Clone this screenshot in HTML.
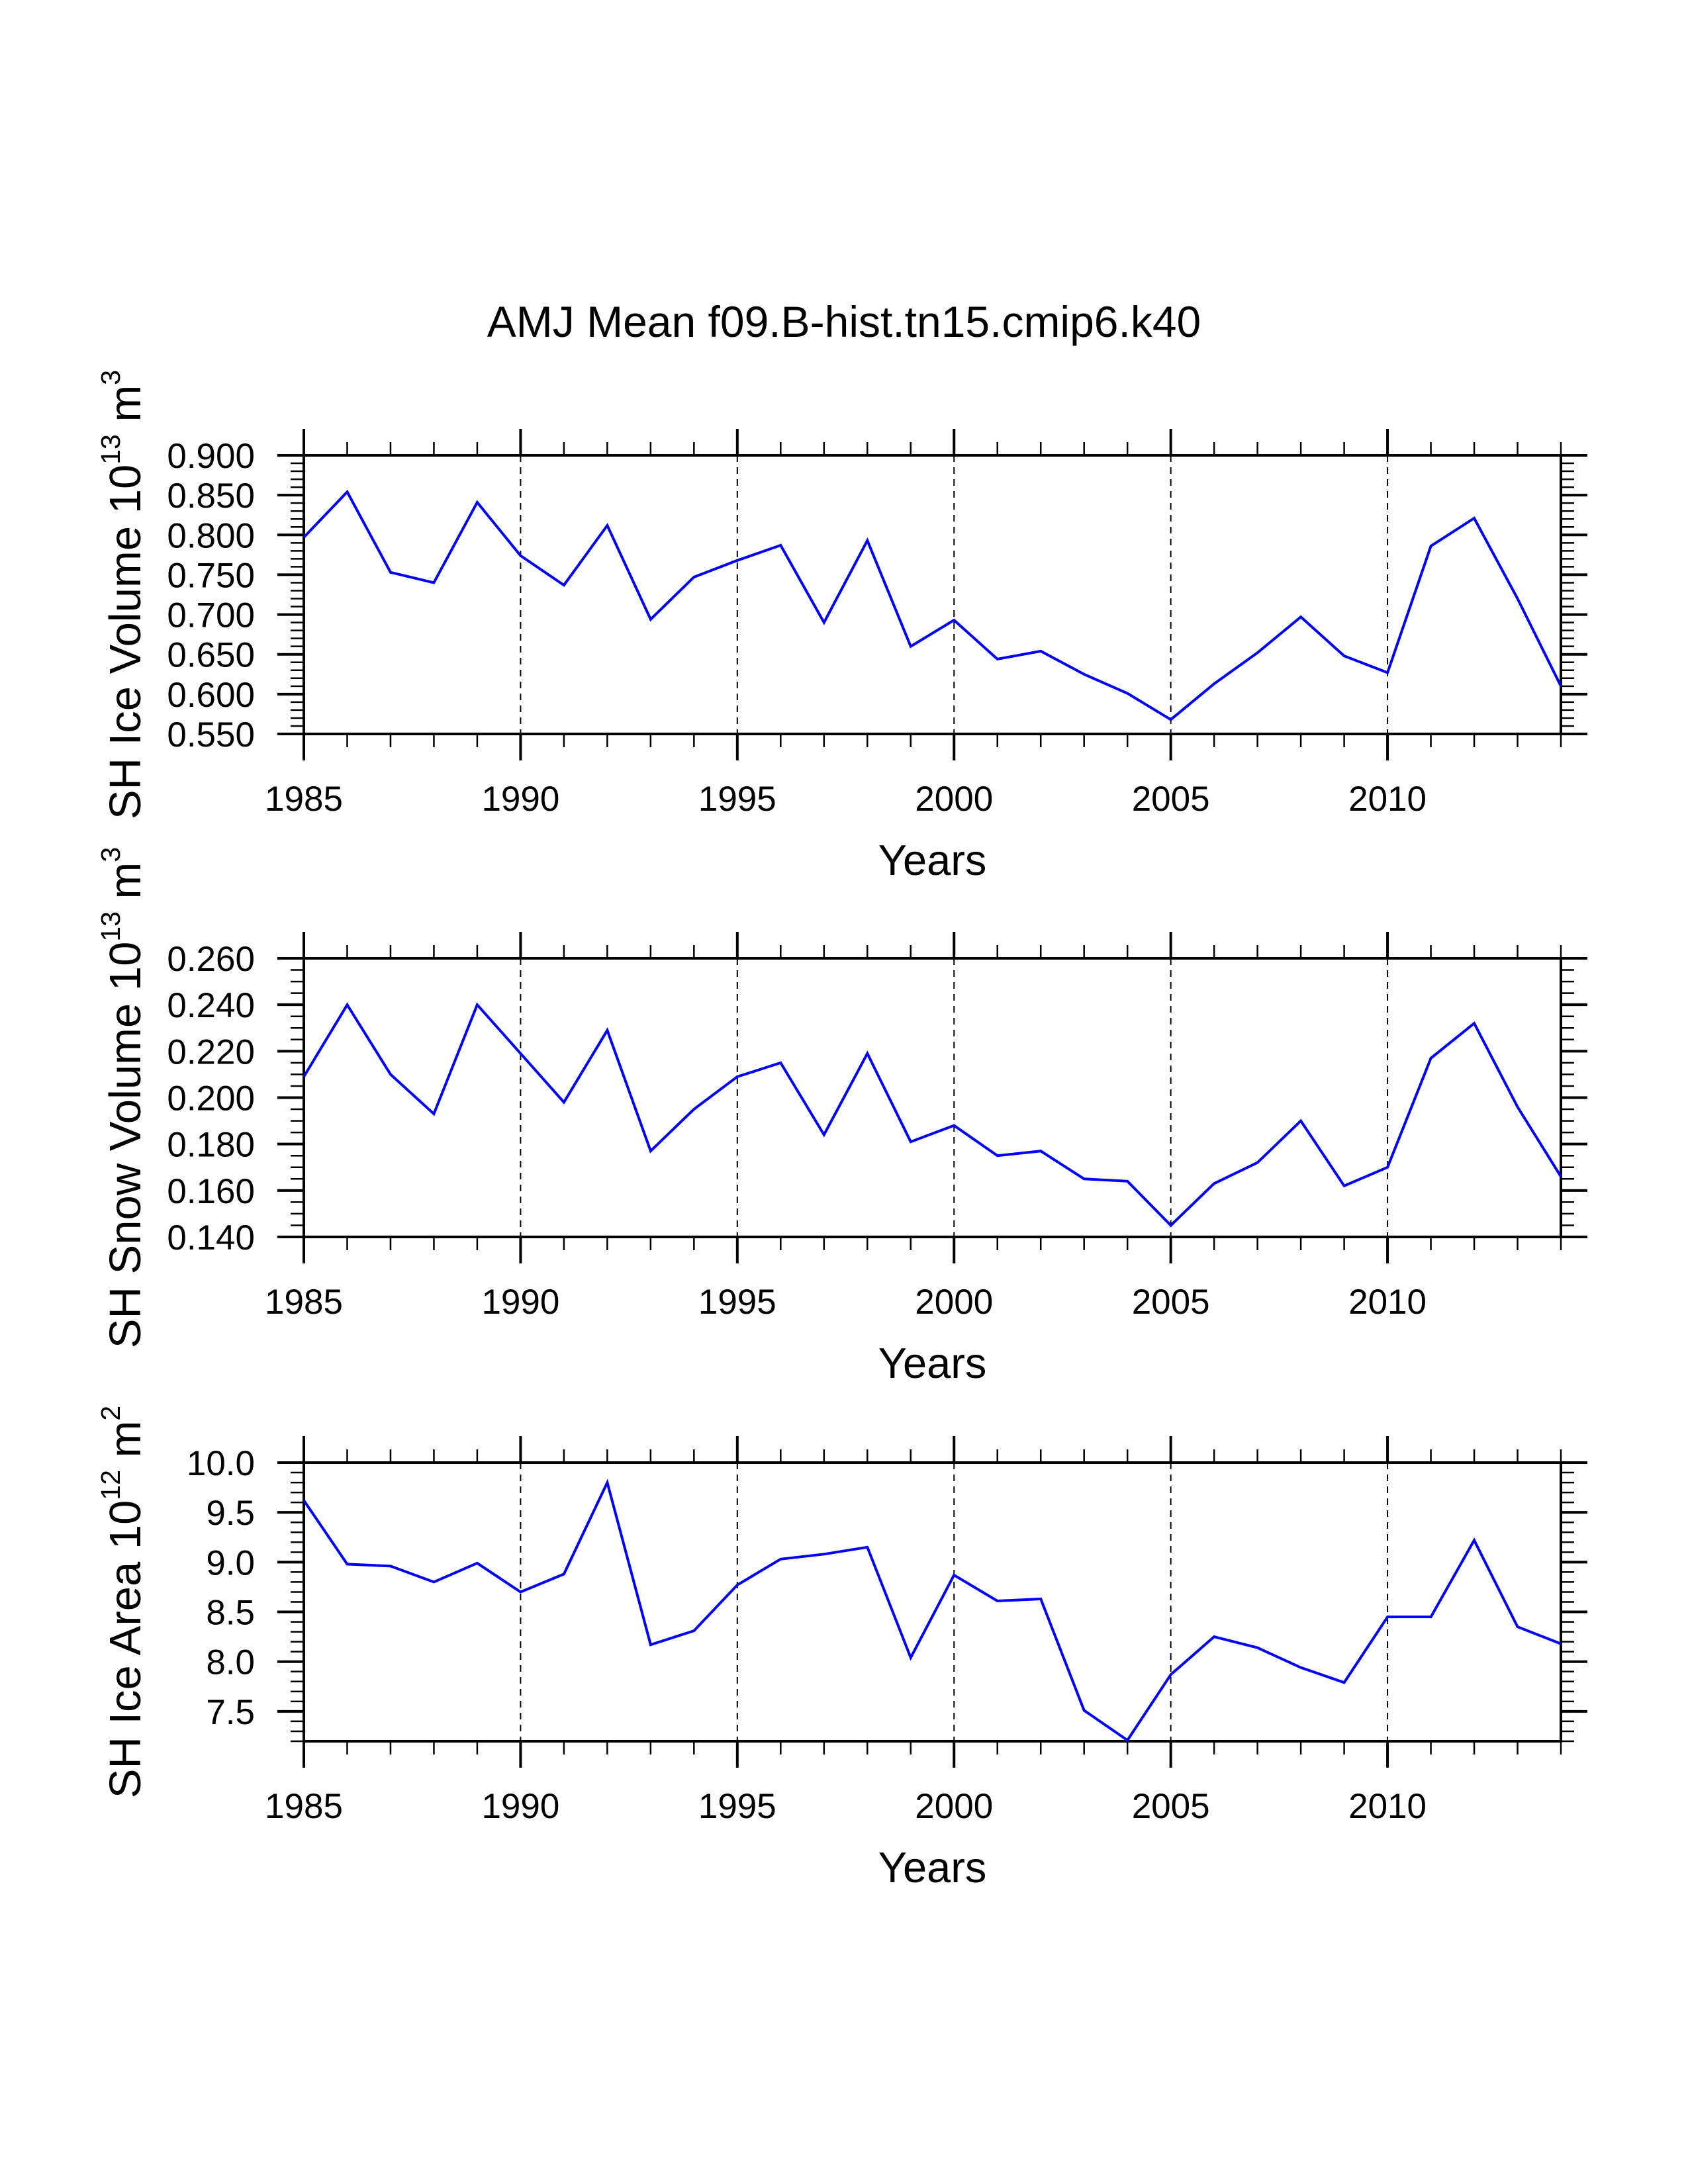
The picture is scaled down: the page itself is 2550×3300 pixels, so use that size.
<!DOCTYPE html>
<html><head><meta charset="utf-8"><style>
html,body{margin:0;padding:0;background:#fff;}
svg{display:block;font-family:"Liberation Sans",Arial,sans-serif;}
</style></head><body>
<svg id="chart" width="2550" height="3300" viewBox="0 0 2550 3300" xmlns="http://www.w3.org/2000/svg">
<rect width="2550" height="3300" fill="#fff"/>
<text x="1275" y="509" font-size="66" text-anchor="middle">AMJ Mean f09.B-hist.tn15.cmip6.k40</text>
</svg>
<script>
const years = [1985,1986,1987,1988,1989,1990,1991,1992,1993,1994,1995,1996,1997,1998,1999,2000,2001,2002,2003,2004,2005,2006,2007,2008,2009,2010,2011,2012,2013,2014];
const iceVolume = [0.797,0.854,0.753,0.740,0.841,0.774,0.737,0.812,0.694,0.747,0.768,0.787,0.690,0.793,0.660,0.693,0.644,0.654,0.625,0.601,0.568,0.613,0.652,0.697,0.648,0.627,0.786,0.821,0.720,0.610];
const snowVolume = [0.209,0.240,0.210,0.193,0.240,0.219,0.198,0.229,0.177,0.195,0.209,0.215,0.184,0.219,0.181,0.188,0.175,0.177,0.165,0.164,0.145,0.163,0.172,0.190,0.162,0.170,0.217,0.232,0.196,0.166];
const iceArea = [9.62,8.98,8.96,8.80,8.99,8.70,8.88,9.80,8.17,8.31,8.77,9.03,9.08,9.15,8.04,8.87,8.61,8.63,7.51,7.21,7.87,8.25,8.14,7.94,7.79,8.45,8.45,9.22,8.35,8.18];
const xTickLabels = ["1985","1990","1995","2000","2005","2010"];
const iceVolumeTicks = ["0.550","0.600","0.650","0.700","0.750","0.800","0.850","0.900"];
const snowVolumeTicks = ["0.140","0.160","0.180","0.200","0.220","0.240","0.260"];
const iceAreaTicks = ["7.5","8.0","8.5","9.0","9.5","10.0"];

const svg = document.getElementById('chart');
const NS = 'http://www.w3.org/2000/svg';
const X0 = 459, X1 = 2358;
function xScale(yr){ return X0 + (yr - 1985) / (2014 - 1985) * (X1 - X0); }
function mk(tag, attrs, parent){
  const e = document.createElementNS(NS, tag);
  for (const k in attrs) e.setAttribute(k, attrs[k]);
  (parent || svg).appendChild(e);
  return e;
}
function line(g, x1, y1, x2, y2, w, extra){
  const l = mk('line', Object.assign({x1:x1, y1:y1, x2:x2, y2:y2, stroke:'#000', 'stroke-width':w}, extra || {}), g);
  return l;
}

function panel(cfg){
  const g = mk('g', {});
  
  
  const top = cfg.top, bot = cfg.top + 421;
  const yScale = v => bot - (v - cfg.ymin) / (cfg.ymax - cfg.ymin) * (bot - top);
  for (let yr = 1990; yr <= 2010; yr += 5) {
    const gl = line(g, xScale(yr), top, xScale(yr), bot, 2, {'stroke-dasharray':'10,8'});
    
    
  }
  years.forEach(yr => {
    const major = (yr - 1985) % 5 === 0;
    const len = major ? 40 : 20;
    const w = major ? 4 : 2.5;
    const x = xScale(yr);
    const t1 = line(g, x, top, x, top - len, w);
    
    
    const t2 = line(g, x, bot, x, bot + len, w);
    
    
  });
  const nMinor = cfg.minor;
  const ticks = cfg.ticks;
  const start = parseFloat(ticks[0]);
  const step = parseFloat(ticks[1]) - parseFloat(ticks[0]);
  const mstep = step / (nMinor + 1);
  for (let v = start - step; v <= cfg.ymax + 1e-9; v += mstep) {
    if (v < cfg.ymin - 1e-9) continue;
    const rel = Math.round((v - start) / mstep);
    const major = rel % (nMinor + 1) === 0;
    const len = major ? 40 : 20;
    const w = major ? 4 : 2.5;
    const y = yScale(v);
    const a = line(g, X0, y, X0 - len, y, w);
    
    
    const b = line(g, X1, y, X1 + len, y, w);
    
    
  }
  ticks.forEach(t => {
    const tx = mk('text', {x:385, y:yScale(parseFloat(t)) + 19, 'font-size':53, 'text-anchor':'end'}, g);
    
    
    tx.textContent = t;
  });
  xTickLabels.forEach(t => {
    const tx = mk('text', {x:xScale(parseFloat(t)), y:bot + 116, 'font-size':53, 'text-anchor':'middle'}, g);
    
    
    tx.textContent = t;
  });
  const fr = mk('rect', {x:X0, y:top, width:X1 - X0, height:bot - top, fill:'none', stroke:'#000', 'stroke-width':4}, g);
  
  
  const pts = years.map((yr, i) => xScale(yr).toFixed(1) + ',' + yScale(cfg.data[i]).toFixed(1)).join(' ');
  const pl = mk('polyline', {points:pts, fill:'none', stroke:'#0000ff', 'stroke-width':4, 'stroke-linejoin':'miter'}, g);
  
  
  const xt = mk('text', {x:(X0 + X1) / 2, y:bot + 213, 'font-size':65, 'text-anchor':'middle'}, g);
  
  
  xt.textContent = 'Years';
  const cy = (top + bot) / 2;
  const yt = mk('text', {x:0, y:0, 'font-size':67, 'text-anchor':'middle', transform:'translate(212,' + cy + ') rotate(-90)'}, g);
  
  
  const s1 = mk('tspan', {}, yt); s1.textContent = cfg.label + ' 10';
  const s2 = mk('tspan', {'font-size':41, dy:-31}, yt); s2.textContent = cfg.exp;
  const s3 = mk('tspan', {dy:31}, yt); s3.textContent = ' m';
  const s4 = mk('tspan', {'font-size':41, dy:-31}, yt); s4.textContent = cfg.unitExp;
}

panel({name:'ice-volume', top:688, ymin:0.55, ymax:0.90, ticks:iceVolumeTicks, minor:4, data:iceVolume, label:'SH Ice Volume', exp:'13', unitExp:'3'});
panel({name:'snow-volume', top:1448, ymin:0.14, ymax:0.26, ticks:snowVolumeTicks, minor:3, data:snowVolume, label:'SH Snow Volume', exp:'13', unitExp:'3'});
panel({name:'ice-area', top:2210, ymin:7.2, ymax:10.0, ticks:iceAreaTicks, minor:4, data:iceArea, label:'SH Ice Area', exp:'12', unitExp:'2'});
</script>
</body></html>
